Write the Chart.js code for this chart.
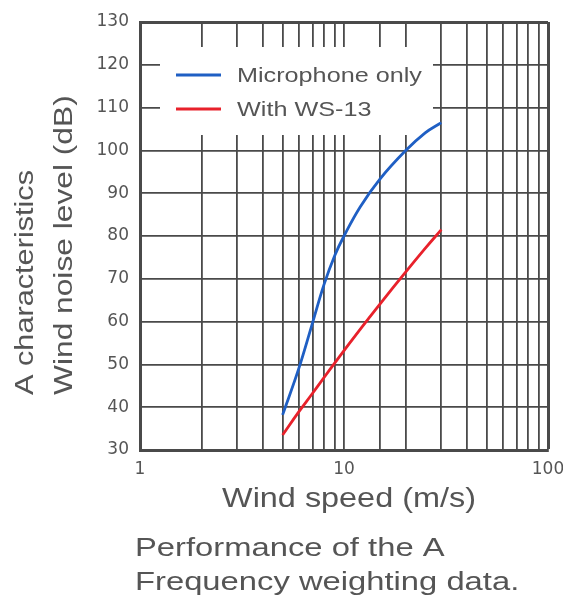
<!DOCTYPE html>
<html>
<head>
<meta charset="utf-8">
<script src="https://cdn.jsdelivr.net/npm/chart.js@4/dist/chart.umd.min.js"></script>
<style>
  html, body { margin: 0; padding: 0; background: #fff; }
  #wrap { width: 563px; height: 603px; position: relative; }
</style>
</head>
<body>
<div id="wrap"><canvas id="windChart" width="563" height="603"></canvas></div>
<script>
// data
const seriesNames = ['Microphone only', 'With WS-13'];
const micSpeed = [5, 6, 7, 8, 9, 10, 12, 15, 20, 25, 30];
const micLevel = [38.2, 49, 59.6, 68.8, 75.4, 80.0, 86.8, 93.3, 99.9, 104.1, 106.5];
const wsSpeed = [5, 6, 7, 8, 9, 10, 12, 15, 20, 25, 30];
const wsLevel = [33.5, 38.9, 43.2, 47.0, 50.3, 53.2, 58.2, 64.1, 71.5, 77.1, 81.5];
const xLabelTicks = [1, 10, 100];
const yMin = 30, yMax = 130, yStep = 10;

const blue = '#1f5fc4';
const red = '#e8212b';
const gridColor = '#4a4a4a';
const textColor = '#555555';

function toPoints(xs, ys) {
    return xs.map((x, i) => ({ x: x, y: ys[i] }));
}

// draw text stretched horizontally (the original uses a wide face)
function wideText(ctx, text, x, y, size, stretch, align) {
    ctx.save();
    ctx.font = size + 'px "Liberation Sans", Arial, sans-serif';
    ctx.fillStyle = textColor;
    ctx.textBaseline = 'alphabetic';
    const w = ctx.measureText(text).width * stretch;
    let x0 = x;
    if (align === 'center') x0 = x - w / 2;
    ctx.translate(x0, y);
    ctx.scale(stretch, 1);
    ctx.textAlign = 'left';
    ctx.fillText(text, 0, 0);
    ctx.restore();
}

// legend box + axis titles + caption
const decorations = {
    id: 'decorations',
    beforeDatasetsDraw(chart) {
        const ctx = chart.ctx;
        const a = chart.chartArea;
        // white legend panel over the grid
        ctx.save();
        ctx.fillStyle = '#ffffff';
        ctx.fillRect(a.left + 20, a.top + 25, 273, 88);
        ctx.restore();
        const rows = [a.top + 53, a.top + 87];
        chart.data.datasets.forEach((ds, i) => {
            ctx.save();
            ctx.strokeStyle = ds.borderColor;
            ctx.lineWidth = 3;
            ctx.beginPath();
            ctx.moveTo(a.left + 36, rows[i]);
            ctx.lineTo(a.left + 81, rows[i]);
            ctx.stroke();
            ctx.restore();
            wideText(ctx, ds.label, a.left + 97, rows[i] + 7, 21, 1.2, 'left');
        });
    },
    afterDraw(chart) {
        const ctx = chart.ctx;
        // x title
        wideText(ctx, 'Wind speed (m/s)', 349, 507, 27, 1.2, 'center');
        // y title, two lines rotated
        ctx.save();
        ctx.rotate(-Math.PI / 2);
        wideText(ctx, 'A characteristics', -395, 33, 26, 1.18, 'left');
        wideText(ctx, 'Wind noise level (dB)', -395, 72, 26, 1.22, 'left');
        ctx.restore();
        // caption
        wideText(ctx, 'Performance of the A', 135, 556, 26, 1.26, 'left');
        wideText(ctx, 'Frequency weighting data.', 135, 590, 26, 1.26, 'left');
    }
};

const ctx = document.getElementById('windChart').getContext('2d');
const windChart = new Chart(ctx, {
    type: 'line',
    data: {
        datasets: [{
            label: seriesNames[0],
            data: toPoints(micSpeed, micLevel),
            borderColor: blue,
            borderWidth: 2.8,
            pointRadius: 0,
            tension: 0.4
        }, {
            label: seriesNames[1],
            data: toPoints(wsSpeed, wsLevel),
            borderColor: red,
            borderWidth: 2.8,
            pointRadius: 0,
            tension: 0.4
        }]
    },
    options: {
        responsive: false,
        animation: false,
        devicePixelRatio: 1,
        layout: { padding: { top: 22, right: 0, left: 0, bottom: 0 } },
        plugins: {
            legend: { display: false },
            tooltip: { enabled: false }
        },
        scales: {
            x: {
                type: 'logarithmic',
                min: 1,
                max: 100,
                afterFit: (scale) => {
                    scale.height = 153;
                    scale.paddingLeft = 0;
                    scale.paddingRight = 15;
                },
                border: { display: true, color: gridColor, width: 3 },
                grid: {
                    color: gridColor,
                    lineWidth: (c) => (c.tick && c.tick.value === 100 ? 3 : 1.8),
                    drawTicks: false
                },
                ticks: {
                    autoSkip: false,
                    maxRotation: 0,
                    padding: 9,
                    color: textColor,
                    font: { family: '"DejaVu Sans", sans-serif', size: 17 },
                    callback: (v) => (xLabelTicks.includes(v) ? String(v) : '')
                }
            },
            y: {
                min: yMin,
                max: yMax,
                afterFit: (scale) => {
                    scale.width = 140;
                    scale.paddingTop = 0;
                    scale.paddingBottom = 0;
                },
                border: { display: true, color: gridColor, width: 3 },
                grid: {
                    color: gridColor,
                    lineWidth: (c) => (c.tick && c.tick.value === yMax ? 3 : 1.8),
                    drawTicks: false
                },
                ticks: {
                    stepSize: yStep,
                    padding: 11,
                    color: textColor,
                    font: { family: '"DejaVu Sans", sans-serif', size: 17 }
                }
            }
        }
    },
    plugins: [decorations]
});
</script>
</body>
</html>
